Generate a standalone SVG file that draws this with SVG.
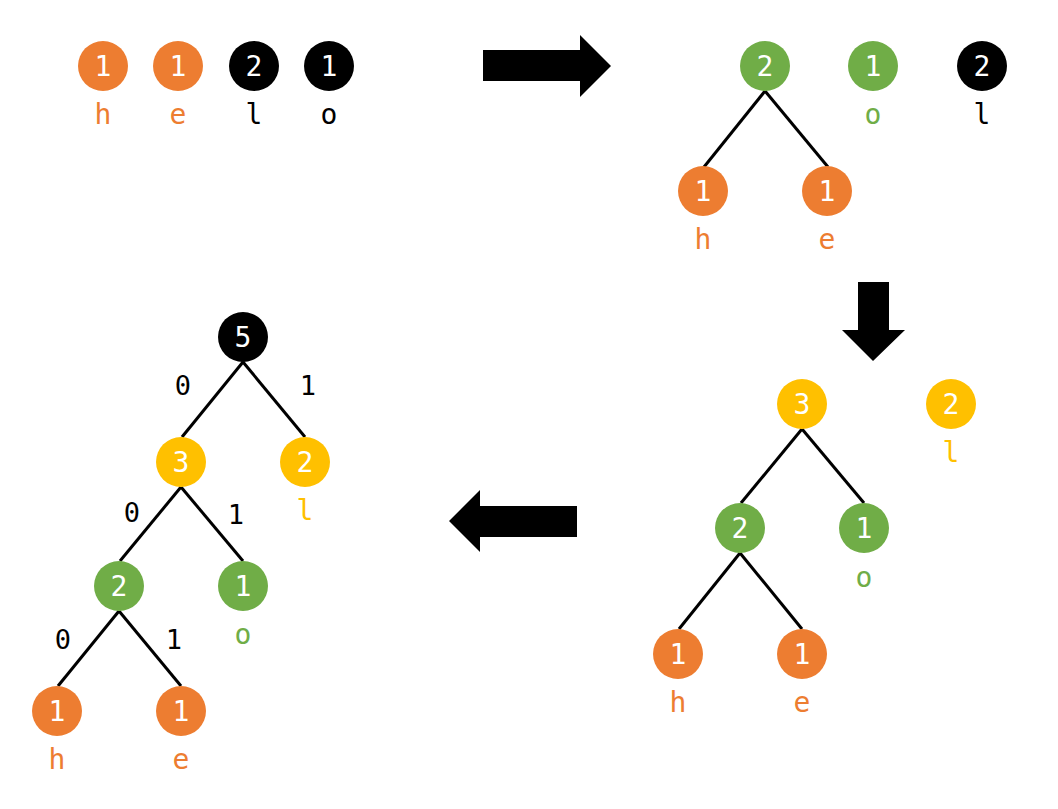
<svg xmlns="http://www.w3.org/2000/svg" width="1058" height="809" viewBox="0 0 1058 809">
<style>
.o{fill:#ED7D31}.g{fill:#70AD47}.y{fill:#FFC000}.k{fill:#000}
.n{font-family:"DejaVu Sans Mono","Liberation Mono",monospace;font-size:28px;fill:#fff;text-anchor:middle}
.t{font-family:"DejaVu Sans Mono","Liberation Mono",monospace;font-size:28px;text-anchor:middle}
.e{stroke:#000;stroke-width:3;fill:none}
.lb{font-family:"DejaVu Sans Mono","Liberation Mono",monospace;font-size:27px;text-anchor:middle;fill:#000}
</style>
<rect width="1058" height="809" fill="#fff"/>
<g id="connectors">
<line class="e" x1="765" y1="91" x2="704" y2="167"/>
<line class="e" x1="765" y1="91" x2="828" y2="167"/>
<line class="e" x1="802" y1="429" x2="741" y2="503"/>
<line class="e" x1="802" y1="429" x2="864" y2="503"/>
<line class="e" x1="740" y1="553" x2="679" y2="629"/>
<line class="e" x1="740" y1="553" x2="802" y2="629"/>
<line class="e" x1="243" y1="362" x2="182" y2="437"/>
<line class="e" x1="243" y1="362" x2="305" y2="437"/>
<line class="e" x1="181" y1="487" x2="120" y2="561"/>
<line class="e" x1="181" y1="487" x2="243" y2="561"/>
<line class="e" x1="119" y1="611" x2="58" y2="686"/>
<line class="e" x1="119" y1="611" x2="181" y2="686"/>
<text class="lb" x="183" y="395">0</text>
<text class="lb" x="308" y="395">1</text>
<text class="lb" x="132" y="522">0</text>
<text class="lb" x="236" y="524">1</text>
<text class="lb" x="63" y="649">0</text>
<text class="lb" x="174" y="649">1</text>
</g>
<g id="arrows">
<polygon points="483,50 580,50 580,35 611,66 580,97 580,81 483,81" fill="#000"/>
<polygon points="858,282 889,282 889,330 905,330 873,361 842,330 858,330" fill="#000"/>
<polygon points="577,506 480,506 480,490 449,521 480,552 480,537 577,537" fill="#000"/>
</g>
<g id="s1-h"><circle class="o" cx="103" cy="66" r="25"/><text class="n" x="103" y="76">1</text><text class="t o" x="103" y="124">h</text></g>
<g id="s1-e"><circle class="o" cx="178" cy="66" r="25"/><text class="n" x="178" y="76">1</text><text class="t o" x="178" y="124">e</text></g>
<g id="s1-l"><circle class="k" cx="254" cy="66" r="25"/><text class="n" x="254" y="76">2</text><text class="t k" x="254" y="124">l</text></g>
<g id="s1-o"><circle class="k" cx="329" cy="66" r="25"/><text class="n" x="329" y="76">1</text><text class="t k" x="329" y="124">o</text></g>

<g id="s2-he"><circle class="g" cx="765" cy="66" r="25"/><text class="n" x="765" y="76">2</text></g>
<g id="s2-o"><circle class="g" cx="873" cy="66" r="25"/><text class="n" x="873" y="76">1</text><text class="t g" x="873" y="124">o</text></g>
<g id="s2-l"><circle class="k" cx="982" cy="66" r="25"/><text class="n" x="982" y="76">2</text><text class="t k" x="982" y="124">l</text></g>
<g id="s2-h"><circle class="o" cx="703" cy="191" r="25"/><text class="n" x="703" y="201">1</text><text class="t o" x="703" y="249">h</text></g>
<g id="s2-e"><circle class="o" cx="827" cy="191" r="25"/><text class="n" x="827" y="201">1</text><text class="t o" x="827" y="249">e</text></g>

<g id="s3-heo"><circle class="y" cx="802" cy="404" r="25"/><text class="n" x="802" y="414">3</text></g>
<g id="s3-l"><circle class="y" cx="951" cy="404" r="25"/><text class="n" x="951" y="414">2</text><text class="t y" x="951" y="462">l</text></g>
<g id="s3-he"><circle class="g" cx="740" cy="528" r="25"/><text class="n" x="740" y="538">2</text></g>
<g id="s3-o"><circle class="g" cx="864" cy="528" r="25"/><text class="n" x="864" y="538">1</text><text class="t g" x="864" y="587">o</text></g>
<g id="s3-h"><circle class="o" cx="678" cy="654" r="25"/><text class="n" x="678" y="664">1</text><text class="t o" x="678" y="712">h</text></g>
<g id="s3-e"><circle class="o" cx="802" cy="654" r="25"/><text class="n" x="802" y="664">1</text><text class="t o" x="802" y="712">e</text></g>

<g id="s4-root"><circle class="k" cx="243" cy="337" r="25"/><text class="n" x="243" y="347">5</text></g>
<g id="s4-heo"><circle class="y" cx="181" cy="462" r="25"/><text class="n" x="181" y="472">3</text></g>
<g id="s4-l"><circle class="y" cx="305" cy="462" r="25"/><text class="n" x="305" y="472">2</text><text class="t y" x="305" y="520">l</text></g>
<g id="s4-he"><circle class="g" cx="119" cy="586" r="25"/><text class="n" x="119" y="596">2</text></g>
<g id="s4-o"><circle class="g" cx="243" cy="586" r="25"/><text class="n" x="243" y="596">1</text><text class="t g" x="243" y="644">o</text></g>
<g id="s4-h"><circle class="o" cx="57" cy="711" r="25"/><text class="n" x="57" y="721">1</text><text class="t o" x="57" y="769">h</text></g>
<g id="s4-e"><circle class="o" cx="181" cy="711" r="25"/><text class="n" x="181" y="721">1</text><text class="t o" x="181" y="769">e</text></g>
</svg>
